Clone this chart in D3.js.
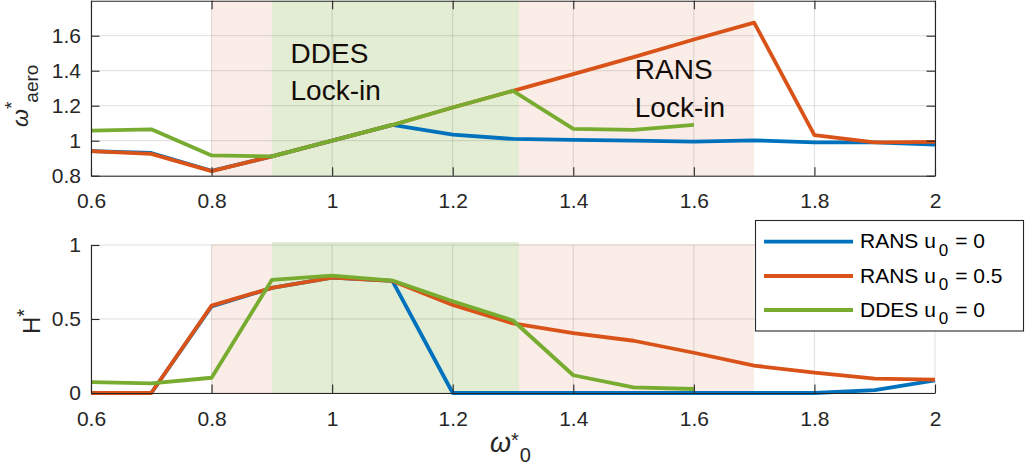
<!DOCTYPE html>
<html>
<head>
<meta charset="utf-8">
<script src="https://cdn.jsdelivr.net/npm/d3@7/dist/d3.min.js"></script>
<style>
  html, body { margin: 0; padding: 0; background: #fff; }
  svg { display: block; font-family: "Liberation Sans", Arial, Helvetica, sans-serif; }
</style>
</head>
<body>
<svg id="chart" width="1025" height="468"></svg>
<script>
// Reduced frequencies sampled by the simulations
const omega0 = [0.6, 0.7, 0.8, 0.9, 1.0, 1.1, 1.2, 1.3, 1.4, 1.5, 1.6, 1.7, 1.8, 1.9, 2.0];

// Aerodynamic (response) frequency
const aeroRansU0   = [0.94, 0.93, 0.828, 0.91, 1.0, 1.09, 1.035, 1.01, 1.005, 1.0, 0.995, 1.002, 0.99, 0.99, 0.977];
const aeroRansU05  = [0.94, 0.925, 0.826, 0.91, 1.0, 1.09, 1.19, 1.285, 1.38, 1.478, 1.578, 1.675, 1.032, 0.99, 0.993];
const aeroDdesU0   = [1.057, 1.065, 0.916, 0.91, 1.0, 1.09, 1.19, 1.285, 1.067, 1.062, 1.09];

// Normalised response amplitude
const hRansU0  = [0, 0, 0.585, 0.71, 0.78, 0.757, 0, 0, 0, 0, 0, 0, 0, 0.02, 0.085];
const hRansU05 = [0, 0, 0.59, 0.71, 0.78, 0.757, 0.595, 0.47, 0.405, 0.353, 0.272, 0.185, 0.137, 0.097, 0.09];
const hDdesU0  = [0.074, 0.065, 0.103, 0.764, 0.793, 0.76, 0.62, 0.49, 0.12, 0.038, 0.027];

// Lock-in bands
const ransBands = [[0.8, 0.9], [1.31, 1.7]];
const ddesBands = [[0.9, 1.31]];

// Axis ticks and labels
const xTicks = [0.6, 0.8, 1, 1.2, 1.4, 1.6, 1.8, 2];
const xTickLabels = ["0.6", "0.8", "1", "1.2", "1.4", "1.6", "1.8", "2"];
const yTopTicks = [0.8, 1, 1.2, 1.4, 1.6];
const yTopTickLabels = ["0.8", "1", "1.2", "1.4", "1.6"];
const yBotTicks = [0, 0.5, 1];
const yBotTickLabels = ["0", "0.5", "1"];

const seriesNames = ["RANS u", "RANS u", "DDES u"];
const seriesSubs = ["0", "0", "0"];
const seriesTails = [" = 0", " = 0.5", " = 0"];
const colors = ["#0072BD", "#D95319", "#77AC30"];

const svg = d3.select("#chart");
const axisColor = "#262626";
const gridColor = "#262626";
const LINE_W = 3.8;

const x = d3.scaleLinear().domain([0.6, 2]).range([91, 935]);
const yTop = d3.scaleLinear().domain([0.8, 1.8]).range([175.7, 0.7]);
const yBot = d3.scaleLinear().domain([0, 1]).range([393, 245]);

const TICK = 8.5;

function bands(g, y, list, fill, y0, y1) {
  g.selectAll(null).data(list).enter().append("rect")
    .attr("x", d => x(d[0]))
    .attr("width", d => x(d[1]) - x(d[0]))
    .attr("y", y(y1))
    .attr("height", y(y0) - y(y1))
    .attr("fill", fill);
}

function grid(g, y, yTicks) {
  const [yb, yt] = y.range();
  g.selectAll(null).data(xTicks).enter().append("line")
    .attr("x1", d => x(d)).attr("x2", d => x(d))
    .attr("y1", yb).attr("y2", yt)
    .attr("stroke", gridColor).attr("stroke-opacity", 0.15).attr("stroke-width", 1);
  g.selectAll(null).data(yTicks).enter().append("line")
    .attr("x1", x.range()[0]).attr("x2", x.range()[1])
    .attr("y1", d => y(d)).attr("y2", d => y(d))
    .attr("stroke", gridColor).attr("stroke-opacity", 0.15).attr("stroke-width", 1);
}

function lines(g, y, seriesList) {
  const gen = d3.line().x((d, i) => x(omega0[i])).y(d => y(d));
  seriesList.forEach((s, k) => {
    g.append("path")
      .attr("d", gen(s))
      .attr("fill", "none")
      .attr("stroke", colors[k])
      .attr("stroke-width", LINE_W)
      .attr("stroke-linejoin", "round");
  });
}

function styleAxis(sel) {
  sel.select(".domain").attr("stroke", axisColor).attr("stroke-width", 1.1);
  sel.selectAll(".tick line").attr("stroke", axisColor).attr("stroke-width", 1.1);
  sel.selectAll(".tick text").attr("fill", axisColor).attr("font-size", 21)
    .attr("font-family", "'Liberation Sans', Arial, sans-serif");
}

function axes(g, y, yTicks, yLabels, boxed) {
  const fmtX = d => xTickLabels[xTicks.indexOf(d)];
  const fmtY = d => yLabels[yTicks.indexOf(d)];
  const bottom = g.append("g").attr("transform", `translate(0,${y.range()[0]})`)
    .call(d3.axisBottom(x).tickValues(xTicks).tickFormat(fmtX).tickSizeInner(-TICK).tickSizeOuter(0).tickPadding(13));
  bottom.selectAll(".tick text").attr("dy", "0.93em");
  styleAxis(bottom);
  const left = g.append("g").attr("transform", `translate(${x.range()[0]},0)`)
    .call(d3.axisLeft(y).tickValues(yTicks).tickFormat(fmtY).tickSizeInner(-TICK).tickSizeOuter(0).tickPadding(10));
  styleAxis(left);
  if (boxed) {
    const top = g.append("g").attr("transform", `translate(0,${y.range()[1]})`)
      .call(d3.axisTop(x).tickValues(xTicks).tickFormat("").tickSizeInner(-TICK).tickSizeOuter(0));
    styleAxis(top);
    const right = g.append("g").attr("transform", `translate(${x.range()[1]},0)`)
      .call(d3.axisRight(y).tickValues(yTicks).tickFormat("").tickSizeInner(-TICK).tickSizeOuter(0));
    styleAxis(right);
  }
}

// ---- upper panel: aerodynamic frequency ----
const gTop = svg.append("g");
bands(gTop, yTop, ransBands, "#faece6", 0.8, 1.8);
bands(gTop, yTop, ddesBands, "#e2edd3", 0.8, 1.8);
grid(gTop, yTop, yTopTicks);
lines(gTop, yTop, [aeroRansU0, aeroRansU05, aeroDdesU0]);
axes(gTop, yTop, yTopTicks, yTopTickLabels, true);

// band annotations
const notes = [
  { x: 0.931, y: 1.446, lines: ["DDES", "Lock-in"] },
  { x: 1.502, y: 1.351, lines: ["RANS", "Lock-in"] }
];
notes.forEach(n => {
  const t = gTop.append("text")
    .attr("x", x(n.x)).attr("y", yTop(n.y))
    .attr("font-size", 28).attr("fill", "#140c08");
  n.lines.forEach((s, i) => {
    t.append("tspan").attr("x", x(n.x)).attr("dy", i === 0 ? 0 : 37.5).text(s);
  });
});

// y label: ω*_aero
const yl1 = svg.append("text")
  .attr("transform", "translate(27.5,127) rotate(-90)")
  .attr("fill", axisColor).attr("font-size", 21);
yl1.append("tspan").attr("font-style", "italic").attr("font-size", 23).text("ω");
yl1.append("tspan").attr("dy", -10).attr("font-size", 19).text("*");
yl1.append("tspan").attr("dy", 20.5).attr("dx", -1).attr("font-size", 19).text("aero");

// ---- lower panel: response amplitude ----
const gBot = svg.append("g");
bands(gBot, yBot, ransBands, "#faece6", 0, 1.007);
bands(gBot, yBot, ddesBands, "#e2edd3", 0, 1.02);
grid(gBot, yBot, yBotTicks);
lines(gBot, yBot, [hRansU0, hRansU05, hDdesU0]);
axes(gBot, yBot, yBotTicks, yBotTickLabels, false);

// y label: H*
const yl2 = svg.append("text")
  .attr("transform", "translate(40,334) rotate(-90)")
  .attr("fill", axisColor).attr("font-size", 24);
yl2.append("tspan").text("H");
yl2.append("tspan").attr("dy", -9).attr("font-size", 20).text("*");

// x label: ω*_0
const xl = svg.append("text")
  .attr("x", 490).attr("y", 452)
  .attr("fill", axisColor).attr("font-size", 21);
xl.append("tspan").attr("font-style", "italic").attr("font-size", 27).text("ω");
xl.append("tspan").attr("dy", -5).attr("font-size", 20).text("*");
xl.append("tspan").attr("dy", 15).attr("dx", 1).attr("font-size", 20).text("0");

// ---- legend ----
const lg = svg.append("g");
lg.append("rect")
  .attr("x", 755.5).attr("y", 220.5).attr("width", 268).attr("height", 110.5)
  .attr("fill", "#fff").attr("stroke", "#262626").attr("stroke-width", 1.1);
const rowY = [241.7, 276, 310];
seriesNames.forEach((name, i) => {
  lg.append("line")
    .attr("x1", 764).attr("x2", 853).attr("y1", rowY[i]).attr("y2", rowY[i])
    .attr("stroke", colors[i]).attr("stroke-width", LINE_W);
  const t = lg.append("text")
    .attr("x", 860).attr("y", rowY[i] + 6.5)
    .attr("font-size", 21).attr("fill", "#000");
  t.append("tspan").text(name);
  t.append("tspan").attr("dx", 3).attr("dy", 7.5).attr("font-size", 17).text(seriesSubs[i]);
  t.append("tspan").attr("dx", 1).attr("dy", -7.5).text(seriesTails[i]);
});
</script>
</body>
</html>
